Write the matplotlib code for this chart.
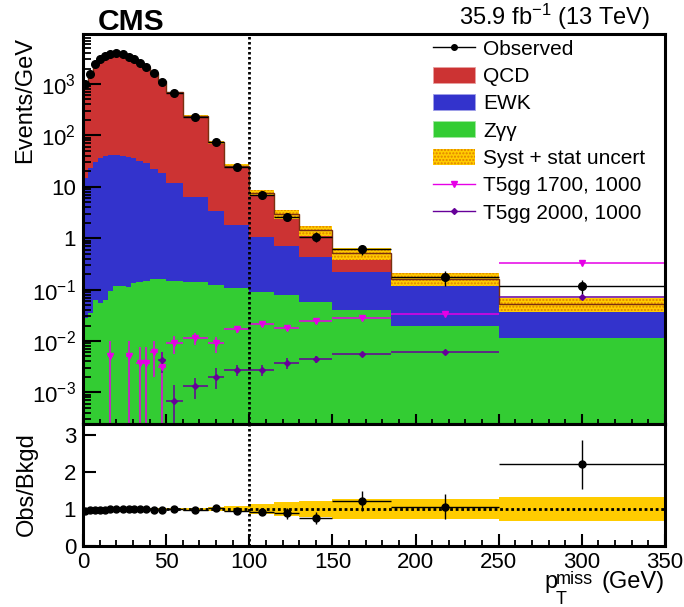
import numpy as np
import matplotlib.pyplot as plt
from matplotlib.patches import Patch
from matplotlib.lines import Line2D
from matplotlib.ticker import LogLocator, NullFormatter, MultipleLocator

plt.rcParams['font.family'] = ['Liberation Sans', 'DejaVu Sans']
plt.rcParams['mathtext.fontset'] = 'custom'
plt.rcParams['mathtext.rm'] = 'Liberation Sans'
plt.rcParams['mathtext.it'] = 'Liberation Sans:italic'
plt.rcParams['mathtext.bf'] = 'Liberation Sans:bold'
plt.rcParams['hatch.linewidth'] = 1.0

nan = np.nan
# pTmiss bin edges (GeV)
edges = np.array([0, 3, 6, 9, 12, 15, 18, 22, 26, 29, 32, 36, 40, 45, 50, 60, 75, 85,
                  100, 115, 130, 150, 185, 250, 350])

# events / GeV
observed = np.array([1000, 1540, 2420, 3070, 3500, 3830, 3950, 3780, 3400, 3070, 2530, 2110,
                     1610, 1110, 678, 231, 75, 24.5, 7.0, 2.62, 1.07, 0.617, 0.174, 0.117])
obs_err_rel = np.array([0.02, 0.02, 0.02, 0.02, 0.02, 0.02, 0.02, 0.02, 0.02, 0.02, 0.02, 0.02,
                        0.02, 0.02, 0.02, 0.02, 0.04, 0.05, 0.10, 0.16, 0.22, 0.22, 0.32, 0.30])
qcd = np.array([1050, 1567, 2460, 3124, 3530, 3788, 3948, 3780, 3392, 3064, 2528, 2101,
                1618, 1112, 673, 234, 69.6, 24.0, 6.5, 2.27, 0.99, 0.286, 0.047, 0.013])
ewk = np.array([14.6, 23.0, 29.9, 35.9, 39.9, 41.6, 41.6, 39.9, 37.4, 35.9, 31.5, 28.5,
                21.8, 18.1, 11.9, 6.06, 3.28, 1.69, 0.98, 0.63, 0.38, 0.18, 0.097, 0.0285])
zgg = np.array([0.028, 0.035, 0.063, 0.056, 0.063, 0.093, 0.117, 0.117, 0.111, 0.133, 0.138, 0.144,
                0.158, 0.163, 0.144, 0.14, 0.123, 0.106, 0.088, 0.079, 0.058, 0.040, 0.020, 0.0115])
unc_rel = np.array([0.02, 0.02, 0.02, 0.02, 0.02, 0.02, 0.02, 0.02, 0.02, 0.02, 0.02, 0.02,
                    0.02, 0.03, 0.03, 0.04, 0.05, 0.07, 0.13, 0.20, 0.22, 0.27, 0.27, 0.32])

sig1700 = np.array([nan, nan, nan, nan, nan, 0.0051, nan, nan, 0.0051, nan, 0.0038, 0.0038,
                    0.006, 0.0031, 0.009, 0.0112, 0.009, 0.017, 0.0214, 0.0178, 0.024, 0.0275, 0.0335, 0.33])
sig1700_err = np.array([nan, nan, nan, nan, nan, 0.0051, nan, nan, 0.0051, nan, 0.0038, 0.0038,
                        0.004, 0.0031, 0.0035, 0.003, 0.0032, 0.0028, 0.0025, 0.002, 0.0022, 0.0018, 0.002, 0.012])
sig2000 = np.array([nan, nan, nan, nan, nan, nan, nan, nan, nan, nan, nan, nan, nan,
                    0.0042, 0.00069, 0.00135, 0.00204, 0.00277, 0.00277, 0.0037, 0.0045, 0.0055, 0.006, 0.072])
sig2000_err = np.array([nan, nan, nan, nan, nan, nan, nan, nan, nan, nan, nan, nan, nan,
                        0.0018, 0.0007, 0.0006, 0.0009, 0.0007, 0.0007, 0.0009, 0.0007, 0.0005, 0.0004, 0.004])

ytick_vals = [1e-3, 1e-2, 1e-1, 1, 10, 100, 1000]
ytick_labels = [r'$10^{-3}$', r'$10^{-2}$', r'$10^{-1}$', '1', '10', r'$10^{2}$', r'$10^{3}$']

c_qcd = '#cc3333'
c_ewk = '#3333cc'
c_zgg = '#33cc33'
c_unc = '#ffcc00'
c_s1 = '#e600e6'
c_s2 = '#660099'

centers = 0.5 * (edges[1:] + edges[:-1])
half = 0.5 * np.diff(edges)
total = qcd + ewk + zgg
ratio = observed / total

W, H = 684, 607
fig = plt.figure(figsize=(W / 100, H / 100), dpi=100)
ax = fig.add_axes([83 / W, 1 - 424 / H, 582 / W, 390 / H])
axr = fig.add_axes([83 / W, 1 - 546 / H, 582 / W, 122 / H], sharex=ax)

# stacked backgrounds
ax.stairs(total, edges, baseline=1e-6, fill=True, color=c_qcd)
ax.stairs(ewk + zgg, edges, baseline=1e-6, fill=True, color=c_ewk)
ax.stairs(zgg, edges, baseline=1e-6, fill=True, color=c_zgg)
ax.stairs(total * (1 + unc_rel), edges, baseline=total * (1 - unc_rel), fill=True,
          facecolor=c_unc, edgecolor='#e08000', hatch='.....', lw=0)
ax.stairs(total, edges, baseline=None, color='#7a3010', lw=1)

ax.errorbar(centers, sig1700, xerr=half, yerr=sig1700_err, fmt='v', color=c_s1,
            ms=5, lw=1.1, capsize=0)
ax.errorbar(centers, sig2000, xerr=half, yerr=sig2000_err, fmt='D', color=c_s2,
            ms=3, lw=1.1, capsize=0)
ax.errorbar(centers, observed, xerr=half, yerr=observed * obs_err_rel, fmt='o',
            color='k', ms=5.5, lw=1, capsize=0)

ax.axvline(100, color='k', ls=(0, (0.9, 0.9)), lw=2.0, zorder=5)

ax.set_yscale('log')
ax.set_xlim(0, 350)
ax.set_ylim(2.43e-4, 9400)
ax.set_yticks(ytick_vals)
ax.set_yticklabels(ytick_labels)
ax.yaxis.set_minor_locator(LogLocator(base=10, subs=np.arange(2, 10), numticks=30))
ax.yaxis.set_minor_formatter(NullFormatter())
ax.xaxis.set_major_locator(MultipleLocator(50))
ax.xaxis.set_minor_locator(MultipleLocator(10))
ax.tick_params(axis='y', which='major', direction='in', length=12.7, width=1.5, labelsize=16, pad=5)
ax.tick_params(axis='y', which='minor', direction='in', length=5.8, width=1.3)
ax.tick_params(axis='x', which='major', direction='in', length=7, width=1.5, labelbottom=False)
ax.tick_params(axis='x', which='minor', direction='in', length=3.6, width=1.3)

# ratio panel
axr.stairs(1 + unc_rel, edges, baseline=1 - unc_rel, fill=True, color=c_unc, lw=0)
axr.axhline(1, color='k', ls=(0, (1, 1)), lw=2.0)
axr.axvline(100, color='k', ls=(0, (0.9, 0.9)), lw=2.0)
axr.errorbar(centers, ratio, xerr=half, yerr=ratio * obs_err_rel, fmt='o', color='k',
             ms=5, lw=1, capsize=0)
axr.set_ylim(0, 3.3)
axr.set_yticks([0, 1, 2, 3])
axr.tick_params(axis='y', which='major', direction='in', length=9.6, width=1.5, labelsize=16, pad=5)
axr.tick_params(axis='x', which='major', direction='in', length=8.6, width=1.5, labelsize=16, pad=4)
axr.tick_params(axis='x', which='minor', direction='in', length=4.3, width=1.3)

for a in (ax, axr):
    for s in a.spines.values():
        s.set_linewidth(2.2)
        s.set_zorder(10)

handles = [Line2D([], [], color='k', marker='o', ms=4, lw=1),
           Patch(facecolor=c_qcd, edgecolor='#e8a0a0', lw=0.6),
           Patch(facecolor=c_ewk, edgecolor='#a0a0e8', lw=0.6),
           Patch(facecolor=c_zgg, edgecolor='#a0e8a0', lw=0.6),
           Patch(facecolor=c_unc, edgecolor='#e08000', hatch='.....', lw=0),
           Line2D([], [], color=c_s1, marker='v', ms=4.5, lw=1),
           Line2D([], [], color=c_s2, marker='D', ms=3, lw=1)]
labels = ['Observed', 'QCD', 'EWK', 'Z\u03b3\u03b3', 'Syst + stat uncert',
          'T5gg 1700, 1000', 'T5gg 2000, 1000']
ax.legend(handles, labels, loc='upper left', bbox_to_anchor=(433 / W, 1 - 39.5 / H),
          bbox_transform=fig.transFigure, frameon=False, fontsize=15, borderpad=0,
          borderaxespad=0, handlelength=2.0, handletextpad=0.4, handleheight=0.8,
          labelspacing=0.39)

fig.text(98 / W, 1 - 30 / H, 'CMS', fontsize=21.6, fontweight='bold', va='baseline')
fig.text(650 / W, 1 - 25 / H, r'35.9 fb$^{-1}$ (13 TeV)', fontsize=17, ha='right', va='baseline')
fig.text(25 / W, 1 - 37 / H, 'Events/GeV', rotation=90, ha='center', va='top', fontsize=17)
fig.text(27 / W, 1 - 432 / H, 'Obs/Bkgd', rotation=90, ha='center', va='top', fontsize=17)

# x-axis title built from pieces: p, superscript "miss", subscript "T", "(GeV)"
fig.text(665 / W, 1 - 588 / H, '(GeV)', fontsize=17, ha='right', va='baseline')
fig.text(544 / W, 1 - 588 / H, 'p', fontsize=17, ha='left', va='baseline')
fig.text(556 / W, 1 - 584 / H, 'miss', fontsize=13, ha='left', va='baseline')
fig.text(556 / W, 1 - 604 / H, 'T', fontsize=13, ha='left', va='baseline')

fig.savefig('out.png', dpi=100)
